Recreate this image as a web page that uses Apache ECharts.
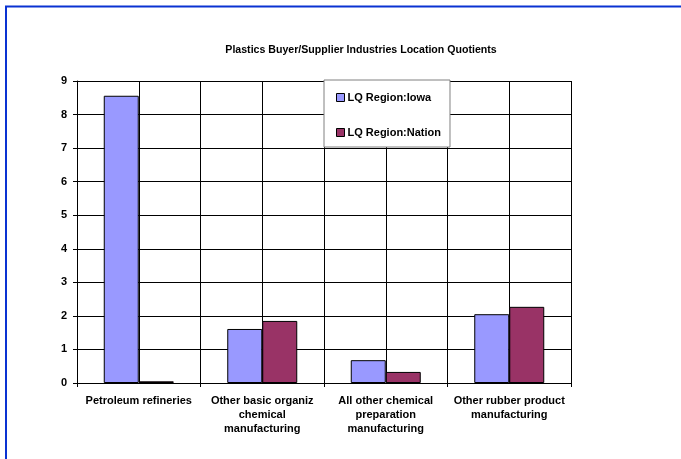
<!DOCTYPE html>
<html><head><meta charset="utf-8">
<script src="https://cdn.jsdelivr.net/npm/echarts@6/dist/echarts.min.js"></script>
<style>html,body{margin:0;padding:0;background:#fff}#c{width:681px;height:459px}</style>
</head><body><div id="c"></div>
<script>
const categories = ["Petroleum refineries", "Other basic organiz\nchemical\nmanufacturing", "All other chemical\npreparation\nmanufacturing", "Other rubber product\nmanufacturing"];
const iowaValues = [8.56, 1.61, 0.68, 2.05];
const nationValues = [0.05, 1.85, 0.33, 2.27];
const seriesNames = ["LQ Region:Iowa", "LQ Region:Nation"];
const yTicks = [0, 1, 2, 3, 4, 5, 6, 7, 8, 9];
const halfSlots = ["a","b","c","d","e","f","g","h"];

const font = "Liberation Sans, Arial, sans-serif";
const chart = echarts.init(document.getElementById('c'));
chart.setOption({
  animation: false,
  backgroundColor: '#fff',
  title: {
    text: 'Plastics Buyer/Supplier Industries Location Quotients',
    left: 356, top: 40, textAlign: 'center',
    textStyle: {fontFamily: font, fontSize: 10.6, fontWeight: 'bold', color: '#000'}
  },
  graphic: [{
    type: 'rect', shape: {x: 6, y: 6.5, width: 900, height: 700},
    style: {fill: 'none', stroke: '#0a32d2', lineWidth: 2}, z: 100
  }],
  legend: {
    orient: 'vertical', left: 324, top: 80,
    padding: [12, 9, 9, 12], itemGap: 24,
    itemWidth: 8, itemHeight: 8, icon: 'rect',
    backgroundColor: '#fff', borderColor: '#808080', borderWidth: 1,
    textStyle: {fontFamily: font, fontSize: 11, fontWeight: 'bold', color: '#000', padding: [0, 0, 0, -2]},
    itemStyle: {borderColor: '#000', borderWidth: 1},
    data: seriesNames, z: 10
  },
  grid: {left: 77, right: 110, top: 81, bottom: 76, containLabel: false},
  xAxis: [{
    type: 'category', data: categories,
    axisLine: {lineStyle: {color: '#000', width: 1}},
    axisTick: {show: true, length: 4, inside: false, interval: 0, lineStyle: {color: '#000'}},
    axisLabel: {interval: 0, margin: 11, fontFamily: font, fontSize: 11, fontWeight: 'bold', color: '#000', lineHeight: 14},
    splitLine: {show: false}
  }, {
    type: 'category', data: halfSlots, position: 'bottom',
    axisLine: {show: false}, axisTick: {show: false}, axisLabel: {show: false},
    splitLine: {show: true, interval: 0, lineStyle: {color: '#000', width: 1}}
  }],
  yAxis: {
    type: 'value', min: yTicks[0], max: yTicks[yTicks.length - 1], interval: 1,
    axisLine: {show: true, lineStyle: {color: '#000'}},
    axisTick: {show: true, length: 4, lineStyle: {color: '#000'}},
    axisLabel: {margin: 10, fontFamily: font, fontSize: 11, fontWeight: 'bold', color: '#000'},
    splitLine: {show: true, lineStyle: {color: '#000', width: 1}}
  },
  series: [{
    name: seriesNames[0], type: 'bar', xAxisIndex: 0, data: iowaValues,
    barWidth: 35, barGap: '0%',
    itemStyle: {color: '#9999ff', borderColor: '#000', borderWidth: 1}
  }, {
    name: seriesNames[1], type: 'bar', xAxisIndex: 0, data: nationValues,
    barWidth: 35, barGap: '0%',
    itemStyle: {color: '#993366', borderColor: '#000', borderWidth: 1}
  }]
});
</script></body></html>
